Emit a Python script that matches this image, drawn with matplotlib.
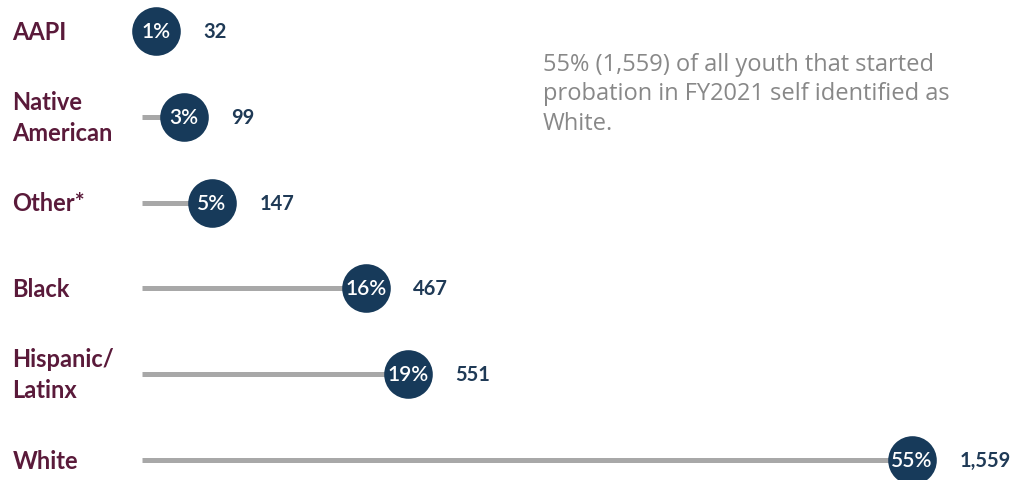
import matplotlib.pyplot as plt

# --- dane ---
kategorie = ["AAPI", "Native\nAmerican", "Other*", "Black", "Hispanic/\nLatinx", "White"]
procenty = [1, 3, 5, 16, 19, 55]
liczby = [32, 99, 147, 467, 551, 1559]
opis = "55% (1,559) of all youth that started\nprobation in FY2021 self identified as\nWhite."

KOLOR_KOLO = "#173a5a"
KOLOR_LINIA = "#a8a8a8"
KOLOR_KAT = "#5a1a3a"
KOLOR_LICZBA = "#1f3a56"
KOLOR_OPIS = "#888888"

plt.rcParams['font.family'] = ['Lato', 'DejaVu Sans']

fig = plt.figure(figsize=(10.13, 4.81), dpi=100)
ax = fig.add_axes([0, 0, 1, 1])
ax.set_xlim(-10.14, 62.2)
ax.set_ylim(5.233, -0.373)
ax.axis('off')

for i, (kat, p, n) in enumerate(zip(kategorie, procenty, liczby)):
    # linia od zera do wartosci
    ax.plot([0, p], [i, i], color=KOLOR_LINIA, lw=3.6, solid_capstyle='butt', zorder=1)
    ax.plot(p, i, 'o', ms=35, color=KOLOR_KOLO, mec='none', zorder=2)
    ax.text(p, i, f"{p}%", color='white', fontsize=15, fontweight='semibold',
            ha='center', va='center', zorder=3)
    ax.annotate(f"{n:,}", (p, i), xytext=(34, 0), textcoords='offset points',
                color=KOLOR_LICZBA, fontsize=14.5, fontweight='bold', va='center')
    ax.annotate(kat, (0, i), xycoords=('figure fraction', 'data'), xytext=(9, 0),
                textcoords='offset points', color=KOLOR_KAT, fontsize=17,
                fontweight='bold', va='center', ha='left', linespacing=1.4)

ax.text(0.536, 0.89, opis, transform=ax.transAxes, color=KOLOR_OPIS, fontsize=17,
        fontweight='medium', family=['Open Sans', 'DejaVu Sans'],
        va='top', ha='left', linespacing=1.3)

fig.savefig("out.png", dpi=100)
